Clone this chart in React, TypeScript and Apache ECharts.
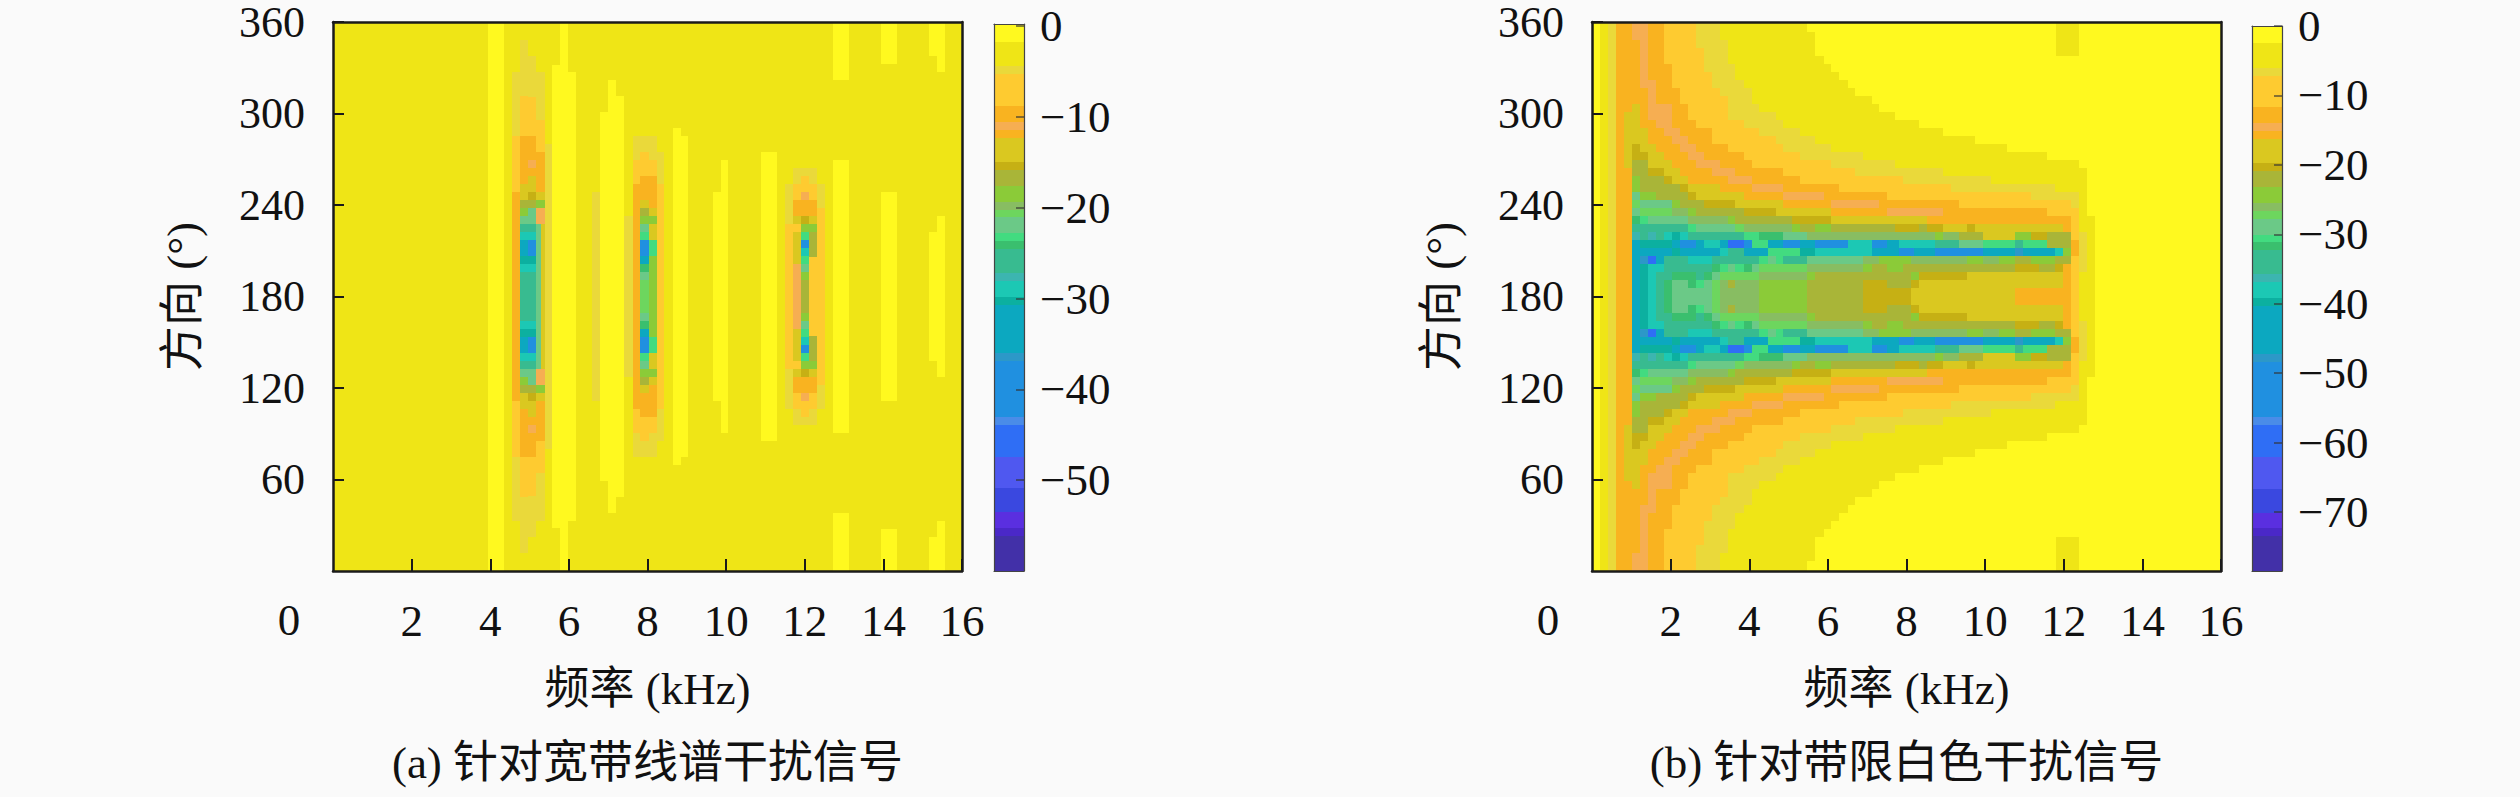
import React, { useEffect, useRef } from "react";
import * as echarts from "echarts";

// ---------- text ----------
const xTitle = "频率 (kHz)";
const yTitle = "方向 (°)";
const captionA = "(a) 针对宽带线谱干扰信号";
const captionB = "(b) 针对带限白色干扰信号";
const barTicksA = [-50, -40, -30, -20, -10, 0];
const barTicksB = [-70, -60, -50, -40, -30, -20, -10, 0];
const barRangeA = [-60, 0.2];
const barRangeB = [-78.5, 0];

// ---------- colour bar: band colours and the band's end as a share of 68.6 steps ----------
const bandColors = [
  "#FFF91F", "#EFE516", "#EAD93A", "#FECB30", "#F9B320", "#F6AE52", "#F9B320", "#DAC820", "#C6B014",
  "#A9B538", "#8BCB38", "#88BD62", "#6DD65E", "#6BC987", "#42DB80", "#3ABF6E", "#38BB90", "#3CB5B0",
  "#1CC8B4", "#0CB0A0", "#0CA8C0", "#2C98C8", "#2090E0", "#4A8CE8", "#2F6EF5", "#4F58F0", "#3A48E0",
  "#5A2FE0", "#4A28C8", "#4230A8",
];
const bandEnds = [
  2.2, 5.25, 6.25, 10.25, 12.25, 13.25, 14.25, 17.25, 18.25, 20.25, 22.25, 23.25, 24.25, 26.25, 27.25,
  28.25, 31.25, 32.25, 34.25, 35.25, 41.25, 42.25, 49.25, 50.25, 54.25, 58.25, 61.25, 63.25, 64.25, 68.6,
];

// ---------- panel (a): strips in kHz, runs [dB, offset from 180° in degrees], centre outward ----------
const aBack = -3;
const aStrips: [number, number, [number, number][]][] = [
  [3.95, 4.36, [[-1, 180]]],
  [4.56, 4.76, [[-9.5, 68.5], [-7, 105], [-5, 147]]],
  [4.76, 4.97, [[-26, 16], [-29, 21], [-30.5, 26.5], [-33, 37], [-29, 42], [-26, 47.6], [-22, 52.8], [-18.5, 58], [-17, 63], [-14, 74], [-9.5, 105], [-7, 131.5], [-5, 168]]],
  [4.97, 5.17, [[-26, 16], [-29, 21], [-30.5, 26.5], [-40, 37], [-29, 42], [-26, 47.6], [-22, 58], [-17, 63], [-15.5, 68.5], [-14, 79], [-9.5, 84], [-11, 89.5], [-9.5, 105], [-7, 131], [-5, 158]]],
  [5.17, 5.28, [[-22, 47.6], [-11, 58], [-18.5, 63], [-14, 68.5], [-9.5, 95], [-7, 116], [-5, 147]]],
  [5.28, 5.38, [[-14, 47.6], [-11, 58], [-18.5, 63], [-14, 68.5], [-9.5, 95], [-7, 116], [-5, 147]]],
  [5.38, 5.58, [[-5, 100]]],
  [5.58, 5.78, [[-1, 152]]],
  [5.78, 5.99, [[-1, 180]]],
  [5.99, 6.19, [[-1, 147]]],
  [6.6, 6.8, [[-5, 68.5]]],
  [6.8, 7.0, [[-1, 121]]],
  [7.0, 7.21, [[-1, 142]]],
  [7.21, 7.41, [[-1, 131.5]]],
  [7.41, 7.62, [[-5, 52.8]]],
  [7.62, 7.82, [[-9.5, 74], [-7, 89.5], [-5, 105]]],
  [7.82, 8.03, [[-20.5, 10.8], [-22, 16], [-24, 21.3], [-33, 26.5], [-40, 37], [-23, 42], [-22, 47.6], [-18.5, 52.8], [-17, 58], [-14, 63], [-9.5, 79], [-7, 95], [-5, 105]]],
  [8.03, 8.23, [[-18.5, 26.5], [-23, 37], [-14, 47.6], [-18.5, 52.8], [-14, 58], [-9.5, 79], [-7, 89.5], [-5, 105]]],
  [8.23, 8.43, [[-7, 74], [-5, 95]]],
  [8.64, 8.84, [[-1, 110.5]]],
  [8.84, 9.04, [[-1, 105]]],
  [9.66, 9.86, [[-1, 68.5]]],
  [9.86, 10.06, [[-1, 89.5]]],
  [10.88, 11.29, [[-1, 94.8]]],
  [11.49, 11.69, [[-7, 47.6], [-5, 74]]],
  [11.69, 11.9, [[-11, 21], [-14, 42], [-7, 47.6], [-14, 53], [-9.5, 63], [-7, 74], [-5, 84]]],
  [11.9, 12.1, [[-17, 10.8], [-18.5, 16], [-22, 21.3], [-23, 26.5], [-29, 31.8], [-40, 37], [-23, 42.3], [-18.5, 47.6], [-15.5, 52.8], [-9.5, 63.3], [-11, 68.5], [-7, 79], [-5, 84.3]]],
  [12.1, 12.31, [[-7, 26], [-17, 42], [-18.5, 47.6], [-14, 53], [-9.5, 63], [-7, 74], [-5, 84]]],
  [12.31, 12.51, [[-7, 58], [-5, 74]]],
  [12.71, 13.12, [[-1, 89.5], [-3, 142], [-1, 180]]],
  [13.94, 14.34, [[-1, 68.5], [-3, 152.5], [-1, 180]]],
  [15.16, 15.36, [[-1, 42], [-3, 158], [-1, 180]]],
  [15.36, 15.57, [[-1, 53], [-3, 147], [-1, 180]]],
];

// ---------- panel (b): levels in dB ----------
const B = -1, G = -4, E = -6.5, F = -9, O = -13, P = -14.5, D = -18, C = -20.3, A = -22, L = -24, M = -26, N = -27;
const H = -29, J = -30.5, K = -32, T = -34, U = -36.5, V = -38, W = -40, X = -44, Y = -48, Z = -52, S = -60;

// row edges as offset from 180°, and for each row the flat list dB, end kHz, dB, end kHz, ...
const bRowEdges = [0, 5.6, 10.9, 16.1, 21.4, 26.6, 31.8, 37.1, 42.3, 47.6, 52.8, 58, 63.3, 68.5, 73.8, 79, 84.3, 89.5, 94.8, 100, 105.2, 110.5, 115.8, 121, 126.2, 131.5, 136.7, 142, 147.2, 152.5, 157.7, 162.9, 168.2, 173.4, 180];
const bEdgeRuns = [B, 0.2, G, 0.4, E, 0.6, O, 0.81];
const bRows: number[][] = [
  [O, 1.01, X, 1.22, W, 1.42, V, 1.62, T, 1.83, K, 2.03, H, 3.05, N, 3.25, M, 4.26, L, 5.48, A, 6.9, C, 8.12, D, 10.76, O, 12.18, F, 12.38, G, 12.79, B, 16],
  [O, 1.01, X, 1.22, W, 1.42, V, 1.62, T, 1.83, K, 2.03, H, 2.44, K, 2.64, J, 2.84, H, 3.05, N, 3.25, M, 3.45, A, 3.65, M, 4.26, L, 5.48, A, 6.9, C, 7.51, A, 8.12, C, 8.32, D, 11.98, O, 12.18, F, 12.38, G, 12.79, B, 16],
  [O, 1.01, X, 1.22, W, 1.42, V, 1.62, T, 2.03, K, 2.64, T, 2.84, K, 3.05, H, 3.25, N, 4.26, M, 5.48, L, 5.68, A, 8.12, L, 8.32, C, 9.54, D, 11.98, O, 12.18, F, 12.38, G, 12.79, B, 16],
  [O, 1.01, X, 1.22, W, 1.42, V, 1.83, T, 3.05, K, 3.25, J, 3.45, H, 3.65, J, 3.86, K, 4.06, H, 4.26, N, 5.48, M, 6.9, L, 7.11, A, 7.51, L, 7.92, A, 10.76, C, 11.37, A, 11.77, C, 11.98, O, 12.18, F, 12.38, E, 12.58, G, 12.79, B, 16],
  [O, 1.01, X, 1.22, Y, 1.42, S, 1.62, X, 1.83, T, 2.44, V, 3.05, T, 4.26, J, 4.47, H, 4.67, J, 4.87, T, 5.48, H, 6.9, M, 7.31, L, 8.12, M, 9.54, L, 9.95, M, 10.35, L, 10.76, A, 11.17, L, 11.77, A, 12.18, F, 12.38, E, 12.58, G, 12.79, B, 16],
  [O, 1.01, X, 2.03, W, 2.23, X, 3.25, V, 3.45, T, 3.86, X, 4.47, J, 5.28, W, 5.68, V, 7.11, X, 7.82, Z, 8.2, X, 8.73, Z, 9.95, X, 10.76, Y, 10.96, X, 11.77, V, 11.98, L, 12.18, O, 12.38, E, 12.58, G, 12.79, B, 16],
  [O, 1.01, X, 1.22, W, 2.03, X, 2.23, Z, 2.64, X, 2.84, V, 3.25, X, 3.45, S, 3.86, Z, 4.06, J, 4.47, X, 4.87, Z, 5.28, X, 5.68, Z, 6.5, V, 7.11, Z, 7.51, X, 7.82, V, 8.73, T, 9.34, H, 9.95, J, 10.76, T, 10.96, J, 11.57, A, 12.18, O, 12.38, E, 12.58, G, 12.79, B, 16],
  [O, 1.01, U, 1.22, T, 1.42, U, 1.62, T, 1.83, V, 2.03, W, 2.23, V, 2.44, T, 3.86, J, 4.26, K, 4.87, H, 5.48, M, 8.73, L, 8.93, M, 9.34, A, 9.95, D, 10.76, L, 11.17, C, 11.57, A, 12.18, F, 12.38, E, 12.58, G, 12.79, B, 16],
  [O, 1.01, T, 2.44, J, 2.64, H, 3.65, N, 3.86, M, 5.08, L, 5.28, A, 5.68, L, 6.09, A, 7.72, C, 8.32, A, 8.53, C, 8.93, D, 9.54, C, 9.74, D, 11.98, O, 12.18, F, 12.38, G, 12.79, B, 16],
  [O, 1.01, K, 1.22, J, 1.42, H, 2.44, M, 3.45, L, 3.65, A, 5.08, C, 6.09, D, 8.53, O, 12.18, F, 12.38, G, 12.79, B, 16],
  [O, 1.01, H, 1.22, N, 2.03, M, 2.44, L, 2.64, A, 3.86, C, 4.67, D, 6.09, O, 7.51, P, 8.93, O, 11.57, F, 12.38, G, 12.58, B, 16],
  [O, 1.01, N, 1.22, H, 2.03, L, 2.23, A, 2.84, C, 3.65, D, 4.87, O, 6.09, P, 7.31, O, 9.34, F, 12.18, E, 12.38, G, 12.58, B, 16],
  [O, 1.01, H, 1.22, L, 1.62, A, 2.44, C, 2.64, D, 3.86, O, 4.87, P, 5.89, O, 7.51, F, 11.17, E, 12.38, G, 12.58, B, 16],
  [O, 1.01, L, 1.22, A, 2.23, C, 2.44, D, 3.25, O, 4.06, P, 4.87, O, 6.29, F, 9.14, E, 11.77, G, 12.58, B, 16],
  [O, 1.01, L, 1.22, A, 1.83, C, 2.03, D, 2.44, O, 3.45, P, 4.06, O, 5.28, F, 7.92, E, 10.15, G, 12.58, B, 16],
  [O, 1.01, A, 1.42, C, 1.83, D, 2.23, O, 3.05, P, 3.65, O, 4.87, F, 6.7, E, 8.93, G, 12.58, B, 16],
  [D, 1.01, A, 1.42, D, 2.03, O, 2.64, P, 3.25, O, 4.06, F, 6.09, E, 7.72, G, 12.38, B, 16],
  [D, 1.01, C, 1.42, D, 1.83, O, 2.44, P, 2.84, O, 3.86, F, 5.28, E, 6.9, G, 11.57, B, 16],
  [D, 1.01, C, 1.22, D, 1.62, O, 2.23, P, 2.64, O, 3.45, F, 4.87, E, 6.09, G, 10.56, B, 16],
  [D, 1.42, O, 2.03, P, 2.44, O, 3.05, F, 4.67, E, 5.68, G, 9.74, B, 16],
  [D, 1.42, O, 1.83, P, 2.23, O, 3.05, F, 4.26, E, 5.28, G, 8.93, B, 16],
  [D, 1.22, O, 1.62, P, 2.03, O, 2.64, F, 3.86, E, 4.87, G, 8.32, B, 16],
  [D, 1.22, O, 1.42, P, 2.03, O, 2.44, F, 3.45, E, 4.67, G, 7.72, B, 16],
  [O, 1.01, D, 1.22, O, 1.42, P, 2.03, O, 2.44, F, 3.45, E, 4.26, G, 7.31, B, 16],
  [O, 1.42, P, 1.62, O, 2.23, F, 3.45, E, 4.06, G, 7.11, B, 16],
  [O, 1.42, P, 1.62, O, 2.23, F, 3.25, E, 4.06, G, 6.7, B, 16],
  [O, 1.22, P, 1.62, O, 2.03, F, 3.05, E, 3.86, G, 6.5, B, 16],
  [O, 1.22, P, 1.42, O, 2.03, F, 3.05, E, 3.65, G, 6.29, B, 16],
  [O, 1.22, P, 1.42, O, 2.03, F, 2.84, E, 3.65, G, 6.09, B, 16],
  [O, 1.22, P, 1.42, O, 1.83, F, 2.84, E, 3.45, G, 5.89, B, 16],
  [O, 1.22, P, 1.42, O, 1.83, F, 2.84, E, 3.45, G, 5.68, B, 11.8, G, 12.4, B, 16],
  [O, 1.22, P, 1.42, O, 1.83, F, 2.64, E, 3.45, G, 5.68, B, 11.8, G, 12.4, B, 16],
  [O, 1.01, P, 1.42, O, 1.83, F, 2.64, E, 3.25, G, 5.68, B, 11.8, G, 12.4, B, 16],
  [O, 1.01, P, 1.42, O, 1.83, F, 2.64, E, 3.25, G, 5.48, B, 11.8, G, 12.4, B, 16],
];

// ---------- layout ----------
const FONT = '"Liberation Serif", "Noto Sans CJK SC", serif';
const INK = "#111111";
const PAGE = "#FAFAFA";
const plotTop = 22;
const plotHeight = 549;
const plotWidth = 629;
const barWidth = 30;
const panels = [
  { plotLeft: 333, barLeft: 994, caption: captionA, ticks: barTicksA, range: barRangeA },
  { plotLeft: 1592, barLeft: 2252, caption: captionB, ticks: barTicksB, range: barRangeB },
];

type Cell = [number, number, number, number, number];

function mirrored(x0: number, x1: number, from: number, to: number, v: number): Cell[] {
  return [
    [x0, x1, 180 + from, 180 + to, v],
    [x0, x1, 180 - to, 180 - from, v],
  ];
}

function cellsA(): Cell[] {
  const out: Cell[] = [[0, 16, 0, 360, aBack]];
  for (const [x0, x1, runs] of aStrips) {
    let from = 0;
    for (const [v, to] of runs) {
      out.push(...mirrored(x0, x1, from, to, v));
      from = to;
    }
  }
  return out;
}

function cellsB(): Cell[] {
  const out: Cell[] = [];
  bRows.forEach((row, i) => {
    const runs = bEdgeRuns.concat(row);
    let start = 0;
    for (let k = 0; k < runs.length; k += 2) {
      out.push(...mirrored(start, runs[k + 1], bRowEdges[i], bRowEdges[i + 1], runs[k]));
      start = runs[k + 1];
    }
  });
  return out;
}

function colorOf(v: number, range: number[]): string {
  const step = ((range[1] - v) / (range[1] - range[0])) * 68.6;
  for (let i = 0; i < bandEnds.length; i++) if (step <= bandEnds[i]) return bandColors[i];
  return bandColors[bandColors.length - 1];
}

function barCells(range: number[]): Cell[] {
  let prev = 0;
  return bandEnds.map((end) => {
    const hi = range[1] - (prev / 68.6) * (range[1] - range[0]);
    const lo = range[1] - (end / 68.6) * (range[1] - range[0]);
    prev = end;
    return [0, 1, lo, hi, (lo + hi) / 2] as Cell;
  });
}

function cellSeries(data: Cell[], axis: number, range: number[]) {
  return {
    type: "custom",
    xAxisIndex: axis,
    yAxisIndex: axis,
    silent: true,
    clip: true,
    data,
    encode: { x: [0, 1], y: [2, 3] },
    renderItem: (_: unknown, api: any) => {
      const a = api.coord([api.value(0), api.value(3)]);
      const b = api.coord([api.value(1), api.value(2)]);
      const x = Math.round(a[0]);
      const y = Math.round(a[1]);
      return {
        type: "rect",
        shape: { x, y, width: Math.round(b[0]) - x, height: Math.round(b[1]) - y },
        style: { fill: colorOf(api.value(4), range), stroke: null },
      };
    },
  };
}

function buildOption() {
  const grid: any[] = [];
  const xAxis: any[] = [];
  const yAxis: any[] = [];
  const series: any[] = [];
  const graphic: any[] = [];
  const title: any[] = [];
  const frame = { show: true, onZero: false, lineStyle: { color: "#1a1a1a", width: 2.5 } };
  const barLine = { show: true, onZero: false, lineStyle: { color: "#444444", width: 1.2 } };
  const label = { fontFamily: FONT, fontSize: 45, color: INK, lineHeight: 38 };

  panels.forEach((p, i) => {
    grid.push({ left: p.plotLeft, top: plotTop, width: plotWidth, height: plotHeight });
    grid.push({ left: p.barLeft, top: plotTop, width: barWidth, height: plotHeight });
    const g = grid.length - 2;
    const xBase = { type: "value", min: 0, max: 16, interval: 2, z: 10, splitLine: { show: false } };
    const yBase = { type: "value", min: 0, max: 360, interval: 60, z: 10, splitLine: { show: false } };

    // main plot: bottom x (index a), left y (index a)
    const a = xAxis.length;
    xAxis.push({
      ...xBase,
      gridIndex: g,
      position: "bottom",
      axisLine: frame,
      axisTick: { show: true, inside: true, length: 12, lineStyle: { color: "#1a1a1a", width: 2 } },
      axisLabel: { ...label, margin: 31, showMinLabel: false, showMaxLabel: true, hideOverlap: false },
      name: xTitle,
      nameLocation: "middle",
      nameGap: 95,
      nameTextStyle: { ...label, lineHeight: 45 },
    });
    yAxis.push({
      ...yBase,
      gridIndex: g,
      position: "left",
      axisLine: frame,
      axisTick: { show: true, inside: true, length: 11, lineStyle: { color: "#1a1a1a", width: 2 } },
      axisLabel: { ...label, fontSize: 44, margin: 28, showMinLabel: false, showMaxLabel: true, hideOverlap: false },
      name: yTitle,
      nameLocation: "middle",
      nameRotate: 90,
      nameGap: 128,
      nameTextStyle: { ...label, lineHeight: 45 },
    });
    series.push(cellSeries(i === 0 ? cellsA() : cellsB(), a, p.range));

    // colour bar axes
    const b = xAxis.length;
    xAxis.push({
      type: "value", gridIndex: g + 1, min: 0, max: 1, position: "bottom", z: 10,
      axisLine: barLine, axisTick: { show: false }, axisLabel: { show: false }, splitLine: { show: false },
    });
    yAxis.push({
      type: "value", gridIndex: g + 1, min: p.range[0], max: p.range[1], position: "right", z: 10,
      axisLine: barLine,
      axisTick: { show: true, inside: true, length: 8, customValues: p.ticks, lineStyle: { color: "#333333", width: 2, opacity: 0.6 } },
      axisLabel: {
        ...label, margin: 16, customValues: p.ticks, padding: [14, 0, 0, 0],
        formatter: (v: number) => String(v).replace("-", "\u2212"),
      },
      splitLine: { show: false },
    });
    series.push(cellSeries(barCells(p.range), b, p.range));

    // frame sides without ticks: top of the plot, right of the plot, top and left of the bar
    const noMarks = { axisTick: { show: false }, axisLabel: { show: false }, splitLine: { show: false } };
    xAxis.push({ ...xBase, gridIndex: g, position: "top", axisLine: frame, ...noMarks });
    yAxis.push({ ...yBase, gridIndex: g, position: "right", axisLine: frame, ...noMarks });
    xAxis.push({ type: "value", gridIndex: g + 1, min: 0, max: 1, position: "top", z: 10, axisLine: barLine, ...noMarks });
    yAxis.push({ type: "value", gridIndex: g + 1, min: p.range[0], max: p.range[1], position: "left", z: 10, axisLine: barLine, ...noMarks });

    graphic.push({
      type: "text",
      x: p.plotLeft - 44,
      y: 620,
      z: 20,
      style: { text: "0", font: `45px ${FONT}`, fill: INK, textAlign: "center", textVerticalAlign: "middle" },
    });
    title.push({
      text: p.caption,
      left: p.plotLeft + plotWidth / 2,
      top: 740,
      textAlign: "center",
      padding: 0,
      textStyle: { fontFamily: FONT, fontSize: 45, fontWeight: "normal", color: INK },
    });
  });

  return { animation: false, backgroundColor: PAGE, grid, xAxis, yAxis, series, graphic, title };
}

export default function App() {
  const ref = useRef<HTMLDivElement>(null);
  useEffect(() => {
    const chart = echarts.init(ref.current!, undefined, { renderer: "svg" });
    chart.setOption(buildOption());
    return () => chart.dispose();
  }, []);
  return <div ref={ref} style={{ position: "absolute", left: 0, top: 0, width: 2520, height: 797 }} />;
}
